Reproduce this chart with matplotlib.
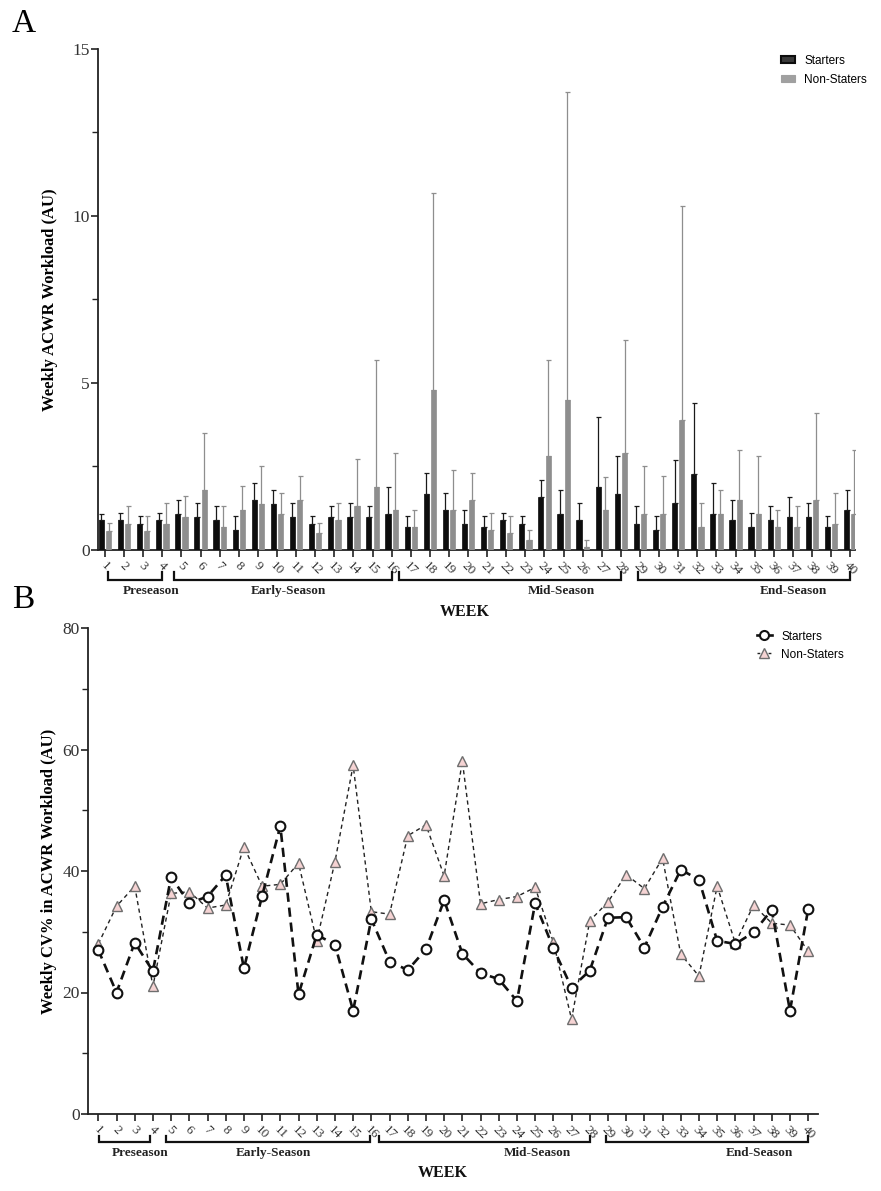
import matplotlib
matplotlib.use("Agg")
import matplotlib.pyplot as plt
import numpy as np
from matplotlib.patches import Patch
from matplotlib.lines import Line2D
import matplotlib.transforms as mtransforms

# ---------------- data ----------------
weeks = list(range(1, 41))

starters_acwr = [0.89, 0.89, 0.79, 0.89, 1.09, 0.99, 0.89, 0.59, 1.50, 1.39,
                 0.99, 0.79, 0.99, 0.99, 0.99, 1.09, 0.69, 1.69, 1.19, 0.79,
                 0.69, 0.89, 0.79, 1.59, 1.09, 0.89, 1.89, 1.68, 0.79, 0.59,
                 1.40, 2.29, 1.09, 0.89, 0.69, 0.89, 0.99, 0.99, 0.69, 1.19]
starters_err_top = [1.09, 1.10, 1.01, 1.10, 1.50, 1.41, 1.31, 1.01, 2.00, 1.80,
                    1.41, 1.01, 1.31, 1.41, 1.31, 1.90, 1.01, 2.30, 1.70, 1.21,
                    1.01, 1.11, 1.01, 2.11, 1.80, 1.41, 3.99, 2.80, 1.31, 1.01,
                    2.70, 4.39, 2.00, 1.50, 1.11, 1.31, 1.60, 1.41, 1.01, 1.80]

nonstarters_acwr = [0.58, 0.79, 0.58, 0.79, 0.99, 1.79, 0.69, 1.19, 1.39, 1.09,
                    1.49, 0.50, 0.89, 1.31, 1.88, 1.19, 0.69, 4.78, 1.19, 1.49,
                    0.59, 0.50, 0.29, 2.80, 4.49, 0.10, 1.19, 2.89, 1.09, 1.09,
                    3.89, 0.69, 1.09, 1.49, 1.09, 0.69, 0.69, 1.49, 0.79, 1.09]
nonstarters_err_top = [0.80, 1.32, 1.01, 1.41, 1.61, 3.51, 1.31, 1.91, 2.50, 1.70,
                       2.21, 0.80, 1.41, 2.71, 5.70, 2.90, 1.21, 10.70, 2.41, 2.30,
                       1.11, 1.01, 0.60, 5.70, 13.70, 0.31, 2.20, 6.30, 2.50, 2.21,
                       10.30, 1.41, 1.80, 3.00, 2.80, 1.21, 1.31, 4.09, 1.70, 3.00]

starters_cv = [27.0, 20.0, 28.2, 23.5, 39.0, 34.7, 35.8, 39.3, 24.0, 35.9,
               47.4, 19.7, 29.5, 27.9, 17.0, 32.1, 25.1, 23.7, 27.1, 35.2,
               26.4, 23.2, 22.2, 18.6, 34.7, 27.3, 20.8, 23.6, 32.3, 32.4,
               27.4, 34.1, 40.2, 38.6, 28.5, 28.0, 29.9, 33.6, 17.0, 33.7]
nonstarters_cv = [28.0, 34.2, 37.5, 21.0, 36.3, 36.6, 33.9, 34.4, 44.0, 37.5,
                  37.8, 41.3, 28.5, 41.5, 57.4, 33.3, 32.9, 45.8, 47.6, 39.2,
                  58.1, 34.6, 35.3, 35.8, 37.3, 28.3, 15.6, 31.8, 34.9, 39.4,
                  37.1, 42.1, 26.3, 22.7, 37.5, 28.1, 34.4, 31.4, 31.1, 26.8]

phase_names = ["Preseason", "Early-Season", "Mid-Season", "End-Season"]
phase_start = [1, 5, 17, 29]
phase_end = [4, 16, 28, 40]

series_names = ["Starters", "Non-Staters"]

# ---------------- style ----------------
SERIF = ["Liberation Serif", "DejaVu Serif"]
SANS = ["Liberation Sans", "DejaVu Sans"]
plt.rcParams["font.family"] = SERIF

fig = plt.figure(figsize=(8.81, 11.91), dpi=100)

axA = fig.add_axes([98 / 881, 1 - 550 / 1191, (855 - 98) / 881, (550 - 49) / 1191])
axB = fig.add_axes([88 / 881, 1 - 1114 / 1191, (818 - 88) / 881, (1114 - 628) / 1191])

w = np.array(weeks, dtype=float)

# ---------------- panel A ----------------
bw = 0.27
s_vals = np.array(starters_acwr)
n_vals = np.array(nonstarters_acwr)
s_err = np.array(starters_err_top) - s_vals
n_err = np.array(nonstarters_err_top) - n_vals

axA.bar(w - 0.19, s_vals, width=bw, color="#0d0d0d", edgecolor="#0d0d0d",
        linewidth=0.5, zorder=3,
        yerr=[np.zeros_like(s_err), s_err],
        error_kw=dict(ecolor="#1a1a1a", elinewidth=0.9, capsize=1.8, capthick=0.9))
axA.bar(w + 0.19, n_vals, width=bw, color="#8e8e8e", edgecolor="#8e8e8e",
        linewidth=0.5, zorder=3,
        yerr=[np.zeros_like(n_err), n_err],
        error_kw=dict(ecolor="#8e8e8e", elinewidth=0.9, capsize=1.8, capthick=0.9))

axA.set_xlim(0.634, 40.25)
axA.set_ylim(0, 15)
axA.set_yticks([0, 5, 10, 15])
axA.set_yticks([2.5, 7.5, 12.5], minor=True)
axA.set_ylabel("Weekly ACWR Workload (AU)", fontsize=12, fontweight="bold",
               labelpad=10)

# ---------------- panel B ----------------
axB.plot(w, nonstarters_cv, linestyle=(0, (3, 2.5)), color="#222222", linewidth=1.0,
         marker="^", markersize=7, markerfacecolor="#f5d3d3",
         markeredgecolor="#6e6e6e", markeredgewidth=1.0, zorder=3,
         label=series_names[1])
axB.plot(w, starters_cv, linestyle=(0, (3.5, 2.2)), color="#111111", linewidth=1.9,
         marker="o", markersize=7, markerfacecolor="white",
         markeredgecolor="#111111", markeredgewidth=1.5, zorder=4,
         label=series_names[0])
axB.set_xlim(0.434, 40.54)
axB.set_ylim(0, 80)
axB.set_yticks([0, 20, 40, 60, 80])
axB.set_yticks([10, 30, 50, 70], minor=True)
axB.set_ylabel("Weekly CV% in ACWR Workload (AU)", fontsize=12, fontweight="bold",
               labelpad=4)

# ---------------- common axis styling ----------------
for ax in (axA, axB):
    for sp in ("top", "right"):
        ax.spines[sp].set_visible(False)
    for sp in ("left", "bottom"):
        ax.spines[sp].set_linewidth(1.3)
        ax.spines[sp].set_color("#222222")
    ax.set_xticks(weeks)
    ax.set_xticklabels([str(k) for k in weeks], rotation=-45, ha="center",
                       fontsize=9.5, color="#333333")
    ax.tick_params(axis="x", which="major", length=5, width=1.2, color="#222222", pad=2)
    ax.tick_params(axis="y", which="major", length=5, width=1.2, color="#222222",
                   labelsize=12.5, labelcolor="#333333", pad=1)
    ax.tick_params(axis="y", which="minor", length=4, width=1.0, color="#222222")

# brackets and phase labels
def brackets(ax, y_line, y_end, y_lab, y_week, starts, ends, lab_x, week_x):
    tr = mtransforms.blended_transform_factory(ax.transData, ax.transAxes)
    for s, e, name, lx in zip(starts, ends, phase_names, lab_x):
        ax.plot([s, s, e, e], [y_end, y_line, y_line, y_end], transform=tr,
                color="#111111", linewidth=1.6, clip_on=False,
                solid_joinstyle="miter")
        ax.text(lx, y_lab, name, transform=tr, ha="center", va="center",
                fontsize=9.5, fontweight="bold", color="#222222")
    ax.text(week_x, y_week, "WEEK", transform=tr, ha="center", va="center",
            fontsize=11.5, fontweight="bold", color="#111111")

brackets(axA, -0.0599, -0.044, -0.082, -0.124,
         [1.15, 4.6, 16.4, 28.9], [3.98, 16.0, 28.0, 40.0],
         [3.4, 10.6, 24.9, 37.0], 19.85)
brackets(axB, -0.0576, -0.045, -0.080, -0.121,
         [1.05, 4.7, 16.4, 28.9], [3.85, 15.95, 28.0, 40.0],
         [3.3, 10.6, 25.1, 37.3], 19.9)

# legends
legA_handles = [Patch(facecolor="#3a3a3a", edgecolor="#0d0d0d", linewidth=1.5),
                Patch(facecolor="#a0a0a0", edgecolor="#a0a0a0", linewidth=0.8)]
fig.legend(legA_handles, series_names, loc="upper left",
           bbox_to_anchor=(770 / 881, 1 - 44 / 1191), frameon=False,
           prop={"family": SANS, "size": 8.5}, handlelength=1.2, handleheight=0.6,
           handletextpad=0.8, labelspacing=0.6)

legB_handles = [Line2D([], [], color="#111111", linewidth=1.9, marker="o",
                       markersize=6.5, markerfacecolor="white",
                       markeredgecolor="#111111", markeredgewidth=1.5),
                Line2D([], [], color="#222222", linewidth=1.0, linestyle=(0, (2, 2)),
                       marker="^", markersize=6.5, markerfacecolor="#f5d3d3",
                       markeredgecolor="#6e6e6e", markeredgewidth=1.0)]
fig.legend(legB_handles, series_names, loc="upper left",
           bbox_to_anchor=(746 / 881, 1 - 620 / 1191), frameon=False,
           prop={"family": SANS, "size": 8.5}, handlelength=1.3,
           handletextpad=0.8, labelspacing=0.5)

# panel letters
fig.text(12 / 881, 1 - 24 / 1191, "A", fontsize=24, va="center", ha="left")
fig.text(12 / 881, 1 - 600 / 1191, "B", fontsize=24, va="center", ha="left")

fig.savefig("out.png", dpi=100)
